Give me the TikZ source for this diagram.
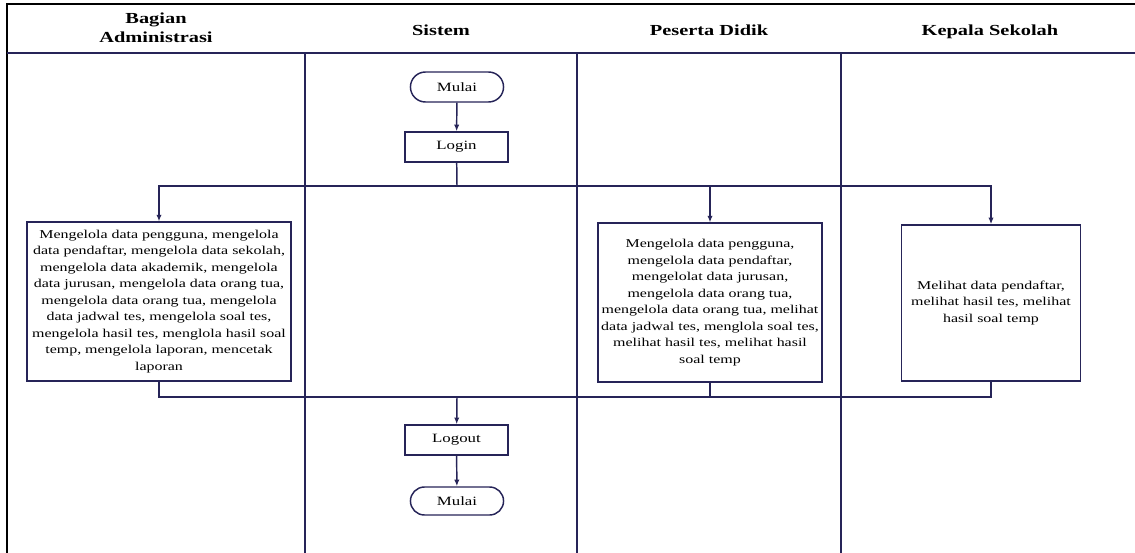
\documentclass[tikz,border=0pt]{standalone}
\usepackage{fontspec}
\setmainfont{Liberation Serif}[FakeStretch=1.33]
\usetikzlibrary{arrows.meta,shapes.misc}
\definecolor{lane}{RGB}{38,36,88}
\tikzset{
  lanehead/.style={font=\fontsize{11.5}{14}\selectfont\bfseries, align=center},
  procbox/.style={draw=lane, line width=1.1pt, fill=white, align=center, inner sep=2pt,
    font=\fontsize{9}{12.4}\selectfont},
  terminal/.style={draw=lane, line width=1.1pt, rounded rectangle, minimum width=76.5pt,
    minimum height=22.5pt, font=\fontsize{9.5}{12}\selectfont},
  arr/.style={draw=lane, line width=1.1pt, -{Latex[length=5pt,width=4pt]}},
  flow/.style={draw=lane, line width=1.1pt}
}
\begin{document}
\begin{tikzpicture}[x=0.75pt,y=-0.75pt]
\useasboundingbox (0,0) rectangle (1135,553);
\draw[line width=1.8pt] (7,553)--(7,4)--(1135,4);
\draw[lane, line width=1.1pt] (7,53)--(1135,53);
\foreach \xx in {305,577,841} \draw[lane, line width=1.1pt] (\xx,53)--(\xx,553);
\node[lanehead] (hadmin) at (156,28) {Bagian\\Administrasi};
\node[lanehead, anchor=base] (hsistem) at (441,35) {Sistem};
\node[lanehead, anchor=base] (hpeserta) at (709,35) {Peserta Didik};
\node[lanehead, anchor=base] (hkepala) at (990,35) {Kepala Sekolah};

\node[terminal] (mulai) at (457,87) {Mulai};
\node[procbox, minimum width=77pt, minimum height=22.5pt, font=\fontsize{9.5}{12}\selectfont] (login) at (456.5,147) {Login};
\node[procbox, minimum width=198pt, minimum height=119pt] (admin) at (159,301.5) {Mengelola data pengguna, mengelola\\data pendaftar, mengelola data sekolah,\\mengelola data akademik, mengelola\\data jurusan, mengelola data orang tua,\\mengelola data orang tua, mengelola\\data jadwal tes, mengelola soal tes,\\mengelola hasil tes, menglola hasil soal\\temp, mengelola laporan, mencetak\\laporan};
\node[procbox, minimum width=168pt, minimum height=119pt] (peserta) at (710,302.5) {Mengelola data pengguna,\\mengelola data pendaftar,\\mengelolat data jurusan,\\mengelola data orang tua,\\mengelola data orang tua, melihat\\data jadwal tes, menglola soal tes,\\melihat hasil tes, melihat hasil\\soal temp};
\node[procbox, minimum width=134pt, minimum height=117pt] (kepala) at (991,303) {Melihat data pendaftar,\\melihat hasil tes, melihat\\hasil soal temp};
\node[procbox, minimum width=77pt, minimum height=22.5pt, font=\fontsize{9.5}{12}\selectfont] (logout) at (456.5,440) {Logout};
\node[terminal, minimum height=21pt] (selesai) at (457,501) {Mulai};

\coordinate (split) at (457,186);
\coordinate (join) at (457,397);
\draw[arr] (mulai) -- (login);
\draw[flow] (login) -- (split);
\draw[arr] (split) -| (admin.north);
\draw[arr] (split) -| (peserta.north);
\draw[arr] (split) -| (kepala.north);
\draw[flow] (admin.south) |- (join);
\draw[flow] (peserta.south) |- (join);
\draw[flow] (kepala.south) |- (join);
\draw[arr] (join) -- (logout);
\draw[arr] (logout) -- (selesai);
\end{tikzpicture}
\end{document}
